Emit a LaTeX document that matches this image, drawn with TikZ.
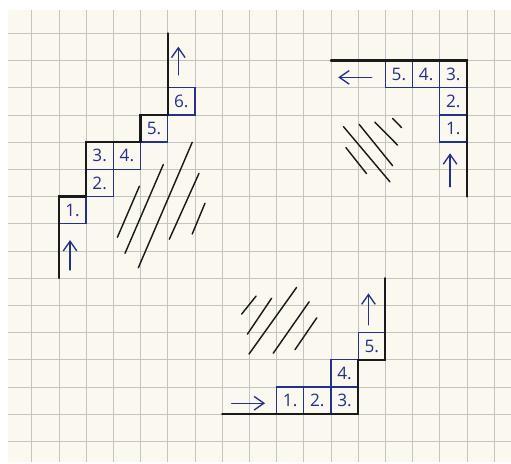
\documentclass[tikz,border=0pt]{standalone}
\usepackage{fontspec}
\setsansfont{Open Sans}
\usepackage{tikz}
\usetikzlibrary{arrows.meta}
\definecolor{paper}{HTML}{FBF8F0}
\definecolor{rule}{HTML}{C6C3C3}
\definecolor{ink}{HTML}{23318A}
\definecolor{pencil}{HTML}{1A1A1A}

\begin{document}
\begin{tikzpicture}[every node/.style={font=\sffamily\fontsize{18}{18}\selectfont,text=ink},
  cell/.style={draw=ink,line width=1.3pt,minimum size=1cm,inner sep=0pt},
  wall/.style={draw=pencil,line width=2.3pt,line cap=round,line join=miter},
  move/.style={-{Straight Barb[length=3.6mm,width=5mm]},ink,line width=1.4pt,line cap=round},
  hatch/.style={pencil,line width=1.5pt,line cap=round}]
  % Paper
  \useasboundingbox (-1.165,-15.80) rectangle (17.62,1.224);
  \fill[white] (-1.165,-15.80) rectangle (17.62,1.224);
  \fill[paper] (-0.87,-15.76) rectangle (17.62,0.86);
  \draw[rule,line width=0.8pt,step=1] (-0.87,-15.76) grid (17.62,0.86);

  % Upper left stairs
  \node[cell] (a1) at (1.5,-6.5) {1.};
  \node[cell] (a2) at (2.5,-5.5) {2.};
  \node[cell] (a3) at (2.5,-4.5) {3.};
  \node[cell] (a4) at (3.5,-4.5) {4.};
  \node[cell] (a5) at (4.5,-3.5) {5.};
  \node[cell] (a6) at (5.5,-2.5) {6.};
  \draw[wall] (1,-9) -- (1,-6) -- (2,-6) -- (2,-4) -- (4,-4) -- (4,-3) -- (5,-3) -- (5,0);
  \coordinate (a0s) at (1.41,-8.70);
  \coordinate (a0e) at (1.41,-7.60);
  \coordinate (a7s) at (5.39,-1.53);
  \coordinate (a7e) at (5.39,-0.49);
  \draw[move] (a0s) -- (a0e);
  \draw[move] (a7s) -- (a7e);
  \draw[hatch] (3.15,-7.50) -- (3.96,-5.62);
  \draw[hatch] (3.43,-8.09) -- (4.84,-4.82);
  \draw[hatch] (3.92,-8.62) -- (5.90,-4.01);
  \draw[hatch] (5.06,-7.57) -- (6.15,-5.15);
  \draw[hatch] (5.90,-7.38) -- (6.37,-6.25);

  % Upper right corner
  \node[cell] (b5) at (13.5,-1.5) {5.};
  \node[cell] (b4) at (14.5,-1.5) {4.};
  \node[cell] (b3) at (15.5,-1.5) {3.};
  \node[cell] (b2) at (15.5,-2.5) {2.};
  \node[cell] (b1) at (15.5,-3.5) {1.};
  \draw[wall] (11,-1) -- (16,-1) -- (16,-6);
  \coordinate (b0s) at (15.38,-5.64);
  \coordinate (b0e) at (15.38,-4.41);
  \coordinate (b6s) at (12.50,-1.62);
  \coordinate (b6e) at (11.27,-1.62);
  \draw[move] (b0s) -- (b0e);
  \draw[move] (b6s) -- (b6e);
  \draw[hatch] (11.46,-3.43) -- (13.17,-5.46);
  \draw[hatch] (12.04,-3.35) -- (13.27,-4.87);
  \draw[hatch] (11.55,-4.20) -- (12.31,-5.16);
  \draw[hatch] (12.62,-3.27) -- (13.45,-4.11);
  \draw[hatch] (13.27,-3.13) -- (13.60,-3.47);

  % Lower stairs
  \node[cell] (c1) at (9.5,-13.5) {1.};
  \node[cell] (c2) at (10.5,-13.5) {2.};
  \node[cell] (c3) at (11.5,-13.5) {3.};
  \node[cell] (c4) at (11.5,-12.5) {4.};
  \node[cell] (c5) at (12.5,-11.5) {5.};
  \draw[wall] (7,-14) -- (12,-14) -- (12,-12) -- (13,-12) -- (13,-9);
  \coordinate (c0s) at (7.35,-13.60);
  \coordinate (c0e) at (8.58,-13.60);
  \coordinate (c6s) at (12.38,-10.72);
  \coordinate (c6e) at (12.38,-9.56);
  \draw[move] (c0s) -- (c0e);
  \draw[move] (c6s) -- (c6e);
  \draw[hatch] (7.72,-10.32) -- (8.25,-9.66);
  \draw[hatch] (7.93,-11.06) -- (8.82,-9.74);
  \draw[hatch] (7.99,-11.79) -- (9.74,-9.34);
  \draw[hatch] (8.88,-11.76) -- (10.20,-9.87);
  \draw[hatch] (9.68,-11.63) -- (10.48,-10.46);
\end{tikzpicture}
\end{document}
